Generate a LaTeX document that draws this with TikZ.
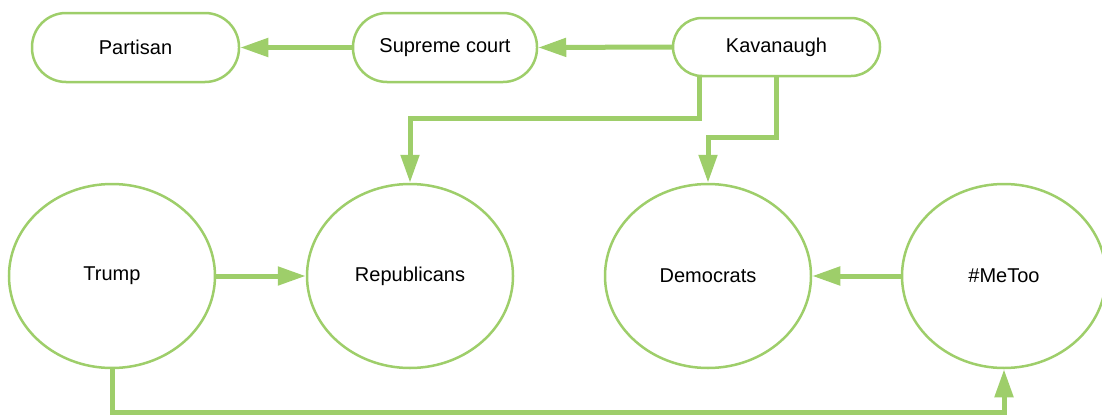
\documentclass[tikz,border=0pt]{standalone}
\usepackage{fontspec}
\setmainfont{Liberation Sans}
\usetikzlibrary{arrows.meta,shapes.geometric}
\definecolor{leaf}{RGB}{158,206,106}
\tikzset{
  pill/.style={draw=leaf, line width=2.5pt, rounded corners=34pt, fill=white,
    minimum height=69pt, inner sep=0pt, font=\fontsize{20}{24}\selectfont},
  blob/.style={draw=leaf, line width=2.5pt, ellipse, fill=white,
    minimum width=206pt, minimum height=184pt, inner sep=0pt,
    font=\fontsize{20}{24}\selectfont},
  link/.style={draw=leaf, line width=5pt,
    -{Triangle[length=28pt,width=18pt]}},
}
\begin{document}
\begin{tikzpicture}[x=1pt,y=-1pt]
\useasboundingbox (0,0) rectangle (1102,415);

% top row
\node[pill, minimum width=207pt] (par) at (135.5,47.5) {Partisan};
\node[pill, minimum width=184pt] (sc)  at (445,47.5) {Supreme court};
\node[pill, minimum width=207pt, minimum height=58pt, rounded corners=29pt] (kav) at (776.5,47) {Kavanaugh};

% bottom row
\node[blob] (trump) at (112,276) {Trump};
\node[blob] (rep)   at (410,276) {Republicans};
\node[blob] (dem)   at (708,276) {Democrats};
\node[blob, minimum width=204pt] (metoo) at (1004,276) {\#MeToo};

% connectors
\draw[link] (kav.west) -- (sc.west -| sc.east);
\draw[link] (sc.west) -- (par.east);
\draw[link] (kav.south -| 699,0) -- (699,118) -| (rep.north);
\draw[link] (kav.south) -- (kav.south |- 0,137) -| (dem.north);
\draw[link] (trump.east) -- (rep.west);
\draw[link] (metoo.west) -- (dem.east);
\draw[link] (trump.south) -- (trump.south |- 0,412.5) -| (metoo.south);
\end{tikzpicture}
\end{document}
